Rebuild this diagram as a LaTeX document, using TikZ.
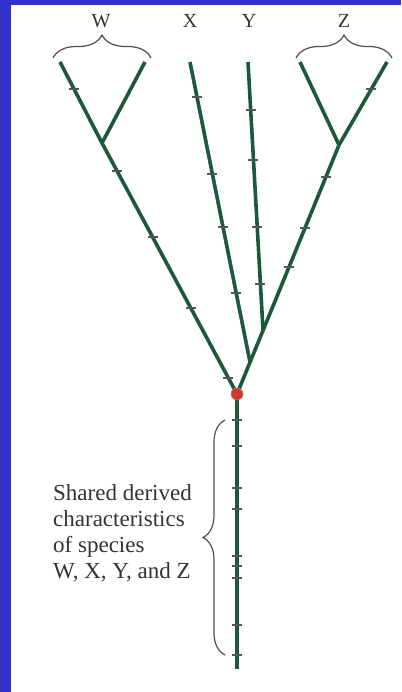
\documentclass[tikz,border=0pt]{standalone}
\usepackage{fontspec}
\setmainfont{Liberation Serif}
\usetikzlibrary{calc,decorations.pathreplacing}
\definecolor{frameblue}{RGB}{51,48,204}
\definecolor{branchgreen}{RGB}{28,88,58}
\definecolor{nodered}{RGB}{200,58,48}
\definecolor{tickgray}{RGB}{85,85,85}
\definecolor{bracegray}{RGB}{80,80,80}
\begin{document}
\begin{tikzpicture}[x=1bp,y=-1bp,
  branch/.style={draw=branchgreen,line width=3.6bp,line join=round},
  tickmark/.style={draw=tickgray,line width=1.3bp},
  curly/.style={draw=bracegray,line width=1.2bp,decorate,decoration={brace,amplitude=#1}},
  taxon/.style={font=\fontsize{20bp}{24bp}\selectfont,text=black!80,anchor=base,inner sep=0pt},
]
% frame and page
\useasboundingbox (0,0) rectangle (401,692);
\fill[frameblue] (0,0) rectangle (401,692);
\fill[white] (11,5) rectangle (401,692);

% tree points
\coordinate (WL) at (60,62);
\coordinate (WR) at (145,62);
\coordinate (WJ) at (102,143);
\coordinate (XT) at (190,62);
\coordinate (XJ) at (250,362);
\coordinate (YT) at (248,62);
\coordinate (YJ) at (263,330);
\coordinate (ZL) at (300,62);
\coordinate (ZR) at (387,62);
\coordinate (ZJ) at (339,145);
\coordinate (R) at (237,394);
\coordinate (B) at (237,669);

% taxon labels
\node[taxon] (labW) at (101,28) {W};
\node[taxon] (labX) at (190,28) {X};
\node[taxon] (labY) at (249,28) {Y};
\node[taxon] (labZ) at (344,28) {Z};

% braces over the W and Z pairs
\draw[curly=23bp] (53,58) -- (151,58);
\draw[curly=23bp] (296,58) -- (392,58);

% branches
\draw[branch] (WL) -- (WJ) -- (R);
\draw[branch] (WR) -- (WJ);
\draw[branch] (XT) -- (XJ);
\draw[branch] (YT) -- (YJ);
\draw[branch] (ZL) -- (ZJ);
\draw[branch] (ZR) -- (ZJ) -- (R);
\draw[branch] (R) -- (B);

% character changes along the branches
\foreach \a/\b/\t in {WL/WJ/0.333, WJ/R/0.112, WJ/R/0.375, WJ/R/0.657, WJ/R/0.936,
                      XT/XJ/0.117, XT/XJ/0.373, XT/XJ/0.55, XT/XJ/0.77,
                      YT/YJ/0.179, YT/YJ/0.366, YT/YJ/0.616, YT/YJ/0.828,
                      ZR/ZJ/0.325, ZJ/R/0.129, ZJ/R/0.333, ZJ/R/0.49}
  \draw[tickmark] ($(\a)!\t!(\b)$) +(-5,0) -- +(5,0);
\foreach \y in {420,446,488,509,556,566,578,625,655}
  \draw[tickmark] (R |- 0,\y) +(-5,0) -- +(5,0);

% common ancestor
\node[circle,fill=nodered,draw=nodered!70!white,line width=0.6bp,minimum size=12bp,inner sep=0pt] (rootdot) at (R) {};

% shared characters on the stem
\draw[curly=22bp] (225,655) -- (225,420);
\node[font=\fontsize{23bp}{26bp}\selectfont,align=left,anchor=west,inner sep=0pt,text=black!80]
  (caption) at (53,533) {Shared derived\\characteristics\\of species\\W, X, Y, and Z};
\end{tikzpicture}
\end{document}
